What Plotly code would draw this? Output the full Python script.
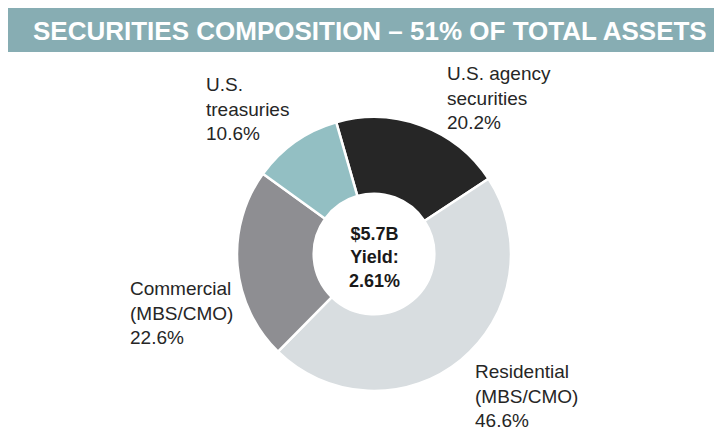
import plotly.graph_objects as go

# Data
categories = ["U.S. agency securities", "Residential (MBS/CMO)", "Commercial (MBS/CMO)", "U.S. treasuries"]
shares = [20.2, 46.6, 22.6, 10.6]
slice_colors = ["#262626", "#d8dde0", "#8e8e92", "#93bfc3"]
label_lines = [
    ["U.S. agency", "securities"],
    ["Residential", "(MBS/CMO)"],
    ["Commercial", "(MBS/CMO)"],
    ["U.S.", "treasuries"],
]
center_lines = ["$5.7B", "Yield:", "2.61%"]
title_text = "SECURITIES COMPOSITION \u2013 51% OF TOTAL ASSETS"

W, H = 722, 430
OFF = 8  # page body margin
FONT = "Liberation Sans, Arial, sans-serif"

def px_x(x):
    return (x - OFF) / W

def px_y(y):
    return 1 - (y - OFF) / H

cx, cy, r = 374, 254, 137

fig = go.Figure(go.Pie(
    labels=categories,
    values=shares,
    hole=0.44,
    sort=False,
    direction="clockwise",
    rotation=-16,
    marker=dict(colors=slice_colors, line=dict(color="white", width=2.5)),
    textinfo="none",
    hoverinfo="label+percent",
    showlegend=False,
    domain=dict(x=[px_x(cx - r), px_x(cx + r)], y=[px_y(cy + r), px_y(cy - r)]),
))

# Banner
fig.add_shape(type="rect", xref="paper", yref="paper",
              x0=px_x(8), x1=1.0, y0=px_y(52), y1=px_y(8),
              fillcolor="#87adb3", line=dict(width=0), layer="below")
fig.add_annotation(xref="paper", yref="paper", x=px_x(369.5), y=px_y(31),
                   text="<b>%s</b>" % title_text, showarrow=False,
                   xanchor="center", yanchor="middle",
                   font=dict(family=FONT, size=26, color="white"))

# Slice labels (left aligned, positioned at px coordinates)
label_pos = [(445, 98), (473, 396), (128, 313), (204, 109)]
for lines, share, (lx, ly) in zip(label_lines, shares, label_pos):
    txt = "<br>".join(lines + ["%.1f%%" % share])
    fig.add_annotation(xref="paper", yref="paper", x=px_x(lx), y=px_y(ly),
                       text=txt, showarrow=False, align="left",
                       xanchor="left", yanchor="middle",
                       font=dict(family=FONT, size=19, color="#262626"))

# Center text
fig.add_annotation(xref="paper", yref="paper", x=px_x(cx), y=px_y(257),
                   text="<br>".join("<b>%s</b>" % s for s in center_lines),
                   showarrow=False, align="center",
                   xanchor="center", yanchor="middle",
                   font=dict(family=FONT, size=18, color="#1a1a1a"))

fig.update_layout(width=W, height=H, margin=dict(l=0, r=0, t=0, b=0),
                  paper_bgcolor="white", plot_bgcolor="white")

fig.write_html("out.html")
